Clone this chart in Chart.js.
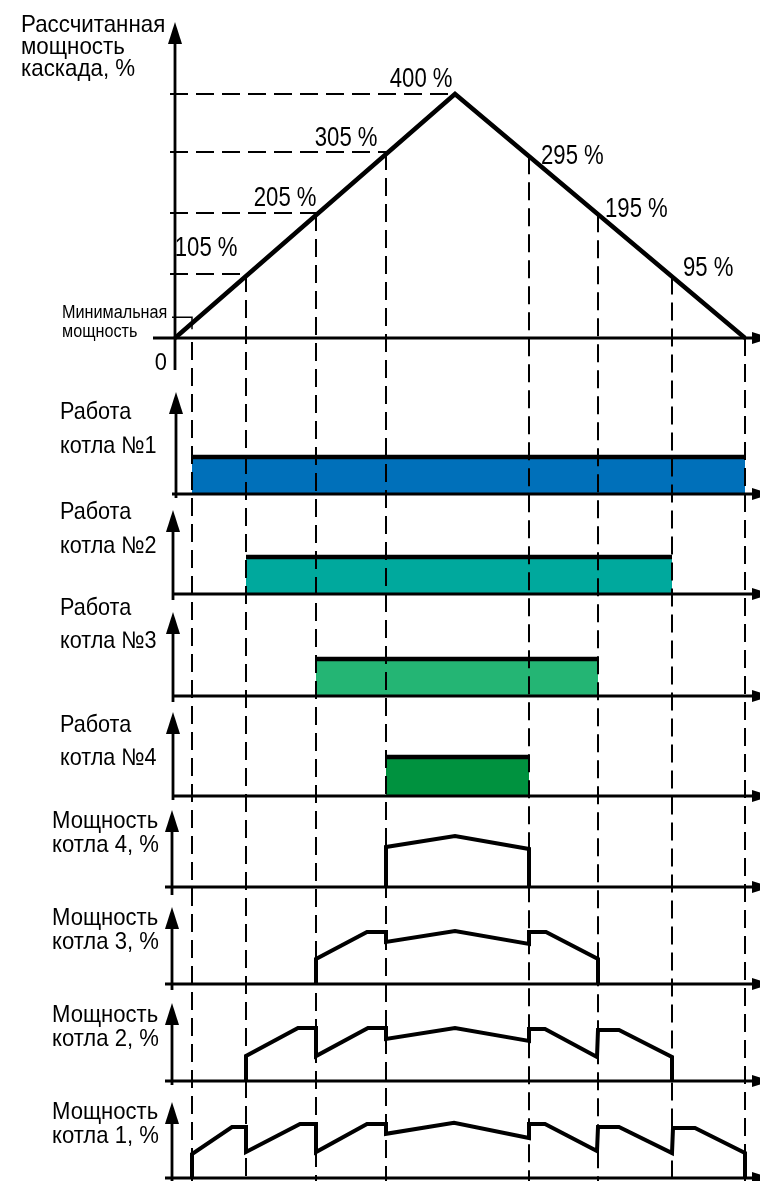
<!DOCTYPE html>
<html lang="ru">
<head>
<meta charset="UTF-8">
<title>Работа каскада котлов</title>
<style>
  body { margin: 0; background: #fff; }
  #wrap {
    position: relative;
    width: 760px;
    height: 1181px;
    overflow: hidden;
    font-family: 'Liberation Sans', Arial, sans-serif;
    color: #000;
  }
  #chart { position: absolute; left: 0; top: 0; }
  .lbl { position: absolute; white-space: nowrap; line-height: 1; }
</style>
</head>
<body>
<div id="wrap">
  <canvas id="chart" width="760" height="1181"></canvas>
</div>

<script src="https://cdn.jsdelivr.net/npm/chart.js"></script>
<script>
// ---- data: x is time in arbitrary units, 0 = start of the cascade ----
const cascadeT   = [0, 280, 570];
const cascadePct = [0, 400, 0];

const stepUpT     = [71, 141, 211, 280];
const stepUpPct   = [105, 205, 305, 400];
const stepDownT   = [354, 423, 497];
const stepDownPct = [295, 195, 95];

const minPowerT   = 17;
const minPowerPct = 34;
const endT        = 570;

const boilerOnT  = [17, 71, 141, 211];
const boilerOffT = [570, 497, 423, 354];

const boiler1T   = [17, 17, 57, 71, 71, 125, 141, 141, 192, 211, 211, 279, 354, 354, 370, 422, 423, 444, 497, 498, 520, 570, 570];
const boiler1Pct = [0, 46, 98, 98, 50, 104, 104, 50, 104, 104, 85, 106, 77, 104, 104, 52, 98, 98, 48, 96, 96, 48, 0];
const boiler2T   = [71, 71, 123, 141, 141, 193, 211, 211, 280, 354, 354, 370, 422, 423, 444, 497, 497];
const boiler2Pct = [0, 48, 102, 102, 48, 102, 102, 81, 102, 77, 100, 100, 46, 98, 98, 46, 0];
const boiler3T   = [141, 141, 192, 211, 211, 280, 354, 354, 371, 423, 423];
const boiler3Pct = [0, 48, 100, 100, 81, 102, 77, 100, 100, 48, 0];
const boiler4T   = [211, 211, 280, 354, 354];
const boiler4Pct = [0, 77, 98, 73, 0];

const powerT   = [boiler1T, boiler2T, boiler3T, boiler4T];
const powerPct = [boiler1Pct, boiler2Pct, boiler3Pct, boiler4Pct];

// ---- layout / styles ----
const W = 760, H = 1181;
const X0 = 175;   // pixel of t = 0
const barColors = ['#0070BA', '#00A99D', '#24B574', '#00923F'];

// each panel: baseline pixel, px per unit, y axis x, arrow tip, axis bottom, baseline start
const panels = {
  yc:  { base: 338,  unit: 0.61, axisX: 175, tip: 22,   end: 370,  from: 153 },
  yb1: { base: 494,  unit: 37,   axisX: 176, tip: 392,  end: 498,  from: 172 },
  yb2: { base: 594,  unit: 37,   axisX: 173, tip: 510,  end: 600,  from: 172 },
  yb3: { base: 696,  unit: 37,   axisX: 173, tip: 612,  end: 702,  from: 172 },
  yb4: { base: 796,  unit: 39,   axisX: 173, tip: 712,  end: 800,  from: 172 },
  yp4: { base: 887,  unit: 0.52, axisX: 172, tip: 810,  end: 895,  from: 165 },
  yp3: { base: 984,  unit: 0.52, axisX: 172, tip: 907,  end: 990,  from: 165 },
  yp2: { base: 1081, unit: 0.52, axisX: 172, tip: 1003, end: 1085, from: 165 },
  yp1: { base: 1178, unit: 0.52, axisX: 172, tip: 1102, end: 1181, from: 165 }
};
const barLabelDy = [[-75, -41], [-75, -41], [-81, -48], [-64, -31]];

function cascadeAt(t) {
  for (let i = 1; i < cascadeT.length; i++) {
    if (t <= cascadeT[i]) {
      const k = (t - cascadeT[i - 1]) / (cascadeT[i] - cascadeT[i - 1]);
      return cascadePct[i - 1] + k * (cascadePct[i] - cascadePct[i - 1]);
    }
  }
  return cascadePct[cascadePct.length - 1];
}

function pts(ts, vs) {
  return ts.map((t, i) => ({ x: t, y: vs[i] }));
}

const lineBase = {
  type: 'line',
  pointRadius: 0,
  tension: 0,
  fill: false,
  clip: false,
  borderColor: '#000',
  borderWidth: 4,
  borderJoinStyle: 'miter',
  borderCapStyle: 'butt'
};

const datasets = [];
datasets.push({ ...lineBase, data: pts(cascadeT, cascadePct), yAxisID: 'yc', borderWidth: 4.5 });
for (let i = 0; i < 4; i++) {
  datasets.push({
    ...lineBase,
    data: [{ x: boilerOnT[i], y: 1 }, { x: boilerOffT[i], y: 1 }],
    yAxisID: 'yb' + (i + 1),
    fill: 'origin',
    backgroundColor: barColors[i],
    borderWidth: 4.5
  });
}
for (let i = 0; i < 4; i++) {
  datasets.push({ ...lineBase, data: pts(powerT[i], powerPct[i]), yAxisID: 'yp' + (i + 1) });
}

const scales = {
  x: { type: 'linear', display: false, min: -X0, max: W - X0 }
};
Object.keys(panels).forEach(id => {
  const p = panels[id];
  scales[id] = { type: 'linear', display: false, min: -(H - p.base) / p.unit, max: p.base / p.unit };
});

// draws axes, arrows and the dashed guide lines
const schemePlugin = {
  id: 'scheme',
  afterDatasetsDraw(chart) {
    const ctx = chart.ctx;
    const xs = chart.scales.x;
    const yc = chart.scales.yc;
    const px = t => xs.getPixelForValue(t);
    ctx.save();
    ctx.strokeStyle = '#000';
    ctx.fillStyle = '#000';

    // dashed guides
    ctx.setLineDash([18, 8]);
    ctx.lineWidth = 2;
    ctx.beginPath();
    stepUpT.forEach((t, i) => {
      const y = yc.getPixelForValue(stepUpPct[i]);
      ctx.moveTo(px(-5), y);
      ctx.lineTo(px(t), y);
    });
    const guides = [{ t: minPowerT, top: yc.getPixelForValue(0) + 4 }];
    stepUpT.slice(0, -1).forEach((t, i) => guides.push({ t: t, top: yc.getPixelForValue(stepUpPct[i]) }));
    stepDownT.forEach(t => guides.push({ t: t, top: yc.getPixelForValue(cascadeAt(t)) }));
    guides.push({ t: endT, top: yc.getPixelForValue(0) });
    guides.forEach(g => {
      ctx.moveTo(px(g.t), g.top);
      ctx.lineTo(px(g.t), H);
    });
    ctx.stroke();

    // axes
    ctx.setLineDash([]);
    ctx.lineWidth = 2.8;
    Object.keys(panels).forEach(id => {
      const p = panels[id];
      ctx.beginPath();
      ctx.moveTo(p.axisX, p.end);
      ctx.lineTo(p.axisX, p.tip + 18);
      ctx.moveTo(p.from, p.base);
      ctx.lineTo(W - 4, p.base);
      ctx.stroke();
      ctx.beginPath();
      ctx.moveTo(p.axisX, p.tip);
      ctx.lineTo(p.axisX - 7, p.tip + 22);
      ctx.lineTo(p.axisX + 7, p.tip + 22);
      ctx.closePath();
      ctx.fill();
      ctx.beginPath();
      ctx.moveTo(W + 12, p.base);
      ctx.lineTo(W - 8, p.base - 6);
      ctx.lineTo(W - 8, p.base + 6);
      ctx.closePath();
      ctx.fill();
    });

    // minimal power marker
    const ym = yc.getPixelForValue(minPowerPct);
    ctx.lineWidth = 1.5;
    ctx.beginPath();
    ctx.moveTo(panels.yc.axisX - 3, ym);
    ctx.lineTo(px(minPowerT), ym);
    ctx.lineTo(px(minPowerT), ym + 12);
    ctx.stroke();
    ctx.restore();
  }
};

const chart = new Chart(document.getElementById('chart'), {
  data: { datasets: datasets },
  options: {
    responsive: false,
    animation: false,
    devicePixelRatio: 1,
    events: [],
    layout: { padding: 0 },
    scales: scales,
    plugins: { legend: { display: false }, tooltip: { enabled: false } }
  },
  plugins: [schemePlugin]
});

// ---- text labels ----
const wrap = document.getElementById('wrap');
function addLabel(text, x, baseline, size, align, sx) {
  const d = document.createElement('div');
  d.className = 'lbl';
  d.textContent = text;
  d.style.fontSize = size + 'px';
  d.style.top = (baseline - size * 0.8465) + 'px';
  if (align === 'right') {
    d.style.right = (W - x) + 'px';
    d.style.transformOrigin = 'right center';
  } else {
    d.style.left = x + 'px';
    d.style.transformOrigin = 'left center';
  }
  d.style.transform = 'scaleX(' + sx + ')';
  wrap.appendChild(d);
}

const xs = chart.scales.x, yc = chart.scales.yc;
addLabel('Рассчитанная', 21, 32, 24, 'left', 0.93);
addLabel('мощность', 21, 54, 24, 'left', 0.93);
addLabel('каскада, %', 21, 76, 24, 'left', 0.93);
addLabel('Минимальная', 62, 318, 18, 'left', 0.9);
addLabel('мощность', 62, 337, 18, 'left', 0.9);
addLabel('0', 167, 370, 23, 'right', 0.95);

const upDx = [-8, 1, -8, -2], upDy = [-17, -6, -5, -6];
stepUpT.forEach((t, i) => {
  addLabel(stepUpPct[i] + ' %', xs.getPixelForValue(t) + upDx[i],
           yc.getPixelForValue(stepUpPct[i]) + upDy[i], 27, 'right', 0.82);
});
const downDx = [12, 7, 11], downDy = [9, 4, 0];
stepDownT.forEach((t, i) => {
  addLabel(stepDownPct[i] + ' %', xs.getPixelForValue(t) + downDx[i],
           yc.getPixelForValue(cascadeAt(t)) + downDy[i], 27, 'left', 0.82);
});

for (let i = 0; i < 4; i++) {
  const base = panels['yb' + (i + 1)].base;
  addLabel('Работа', 60, base + barLabelDy[i][0], 24, 'left', 0.9);
  addLabel('котла №' + (i + 1), 60, base + barLabelDy[i][1], 24, 'left', 0.9);
}
for (let n = 1; n <= 4; n++) {
  const base = panels['yp' + n].base;
  addLabel('Мощность', 52, base - 59, 24, 'left', 0.92);
  addLabel('котла ' + n + ', %', 52, base - 35, 24, 'left', 0.92);
}
</script>
</body>
</html>
